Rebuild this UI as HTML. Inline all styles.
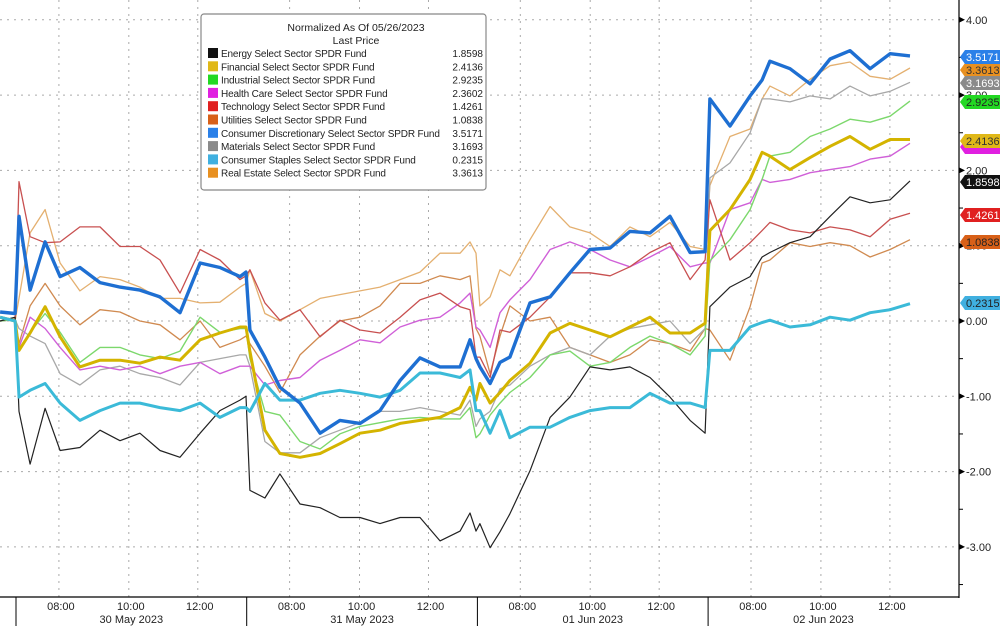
<!DOCTYPE html>
<html><head><meta charset="utf-8"><style>
html,body{margin:0;padding:0;background:#fff}
svg{display:block;font-family:"Liberation Sans",sans-serif}
</style></head><body>
<svg id="chart" width="1000" height="626" viewBox="0 0 1000 626" xmlns="http://www.w3.org/2000/svg">
<rect x="0" y="0" width="1000" height="626" fill="#fff"/>
<g id="grid"></g>
<g id="series"></g>
<g id="axes"></g>
<g id="tags"></g>
<g id="legend"></g>
</svg>
<script>
const times=[-0.069,-0.004,0.013,0.061,0.126,0.191,0.277,0.364,0.451,0.537,0.624,0.711,0.798,0.884,0.971,0.997,
1.014,1.079,1.144,1.231,1.318,1.404,1.491,1.578,1.665,1.751,1.838,1.925,1.968,1.994,
2.011,2.055,2.098,2.141,2.228,2.315,2.401,2.488,2.575,2.661,2.748,2.835,2.922,2.987,
3.008,3.095,3.182,3.234,3.268,3.355,3.442,3.529,3.615,3.702,3.789,3.875];
const names=["Energy Select Sector SPDR Fund","Financial Select Sector SPDR Fund","Industrial Select Sector SPDR Fund","Health Care Select Sector SPDR Fund","Technology Select Sector SPDR Fund","Utilities Select Sector SPDR Fund","Consumer Discretionary Select Sector SPDR Fund","Materials Select Sector SPDR Fund","Consumer Staples Select Sector SPDR Fund","Real Estate Select Sector SPDR Fund"];
const lastValues=["1.8598","2.4136","2.9235","2.3602","1.4261","1.0838","3.5171","3.1693","0.2315","3.3613"];
const energy=[0,0.05,-1.2,-1.9,-1.16,-1.72,-1.68,-1.45,-1.59,-1.49,-1.72,-1.81,-1.49,-1.19,-1.05,-1.0,
-2.25,-2.35,-2.03,-2.43,-2.48,-2.61,-2.61,-2.69,-2.61,-2.61,-2.92,-2.79,-2.55,-2.79,
-2.69,-3.01,-2.8,-2.56,-1.99,-1.28,-1.01,-0.61,-0.65,-0.61,-0.75,-1.01,-1.32,-1.49,
0.19,0.45,0.59,0.85,0.91,1.04,1.12,1.39,1.65,1.57,1.61,1.86];
const financial=[0.05,0,-0.39,-0.16,0.19,-0.21,-0.61,-0.52,-0.52,-0.56,-0.48,-0.52,-0.25,-0.16,-0.08,-0.08,
-0.4,-1.45,-1.76,-1.81,-1.76,-1.63,-1.49,-1.45,-1.36,-1.32,-1.28,-1.15,-0.88,-1.05,
-0.83,-1.09,-0.95,-0.79,-0.56,-0.16,-0.03,-0.12,-0.21,-0.08,0.05,-0.16,-0.16,-0.03,
1.2,1.48,1.88,2.24,2.19,2.01,2.17,2.32,2.45,2.28,2.41,2.41];
const industrial=[0,0.02,-0.4,-0.15,0.1,-0.15,-0.55,-0.35,-0.35,-0.45,-0.5,-0.4,0.05,-0.15,-0.1,-0.1,
-0.5,-1.2,-1.25,-1.6,-1.7,-1.5,-1.4,-1.35,-1.3,-1.28,-1.3,-1.3,-1.15,-1.55,
-1.5,-1.25,-1.09,-0.95,-0.75,-0.45,-0.4,-0.6,-0.55,-0.35,-0.2,-0.3,-0.45,-0.2,
0.8,1.08,1.48,1.88,2.19,2.24,2.45,2.55,2.68,2.64,2.72,2.92];
const health=[0,0.02,-0.35,0.05,-0.1,-0.35,-0.65,-0.6,-0.65,-0.6,-0.7,-0.6,-0.55,-0.7,-0.6,-0.6,
-0.6,-0.85,-0.79,-0.75,-0.52,-0.39,-0.25,-0.29,-0.08,0.01,0.05,0.24,0.37,-0.08,
-0.12,-0.35,0.11,0.28,0.55,0.95,1.05,0.95,0.81,0.72,0.85,0.99,0.72,0.77,
0.77,1.48,1.57,1.88,1.84,1.88,1.97,2.01,2.05,2.15,2.19,2.36];
const technology=[0,0.02,1.85,1.12,1.04,1.05,1.25,1.25,0.99,0.99,0.81,0.37,0.95,0.81,0.55,0.6,
0.68,0.24,0.01,0.15,-0.21,0.01,-0.12,-0.16,0.05,0.28,0.37,0.19,0.15,-0.48,
-0.48,-0.75,-0.12,-0.15,0.05,0.32,0.64,0.64,0.6,0.72,0.91,1.04,0.55,0.81,
1.61,0.81,1.04,1.2,1.31,1.21,1.17,1.25,1.21,1.12,1.35,1.43];
const utilities=[0,0.03,-0.3,0.2,0.5,0.2,-0.05,0.15,0.12,0,-0.05,-0.25,0,-0.35,-0.25,-0.2,
-0.3,-0.6,-0.95,-0.45,-0.2,0,0.05,0.2,0.5,0.5,0.6,0.55,0.6,-0.1,
-0.2,-0.7,-0.2,0.2,0,0.05,-0.35,-0.45,-0.55,-0.45,-0.25,-0.3,-0.4,-0.1,
-0.12,-0.52,0.19,0.77,0.81,1.04,0.99,1.04,1.0,0.85,0.95,1.08];
const discretionary=[0.12,0.1,1.39,0.41,1.05,0.59,0.71,0.51,0.45,0.41,0.32,0.11,0.77,0.71,0.59,0.65,
-0.12,-0.48,-0.88,-1.09,-1.49,-1.32,-1.36,-1.19,-0.79,-0.49,-0.61,-0.61,-0.25,-0.5,
-0.61,-0.83,-0.55,-0.48,0.24,0.32,0.64,0.95,0.97,1.19,1.17,1.39,0.91,0.92,
2.95,2.59,2.99,3.2,3.45,3.35,3.15,3.48,3.59,3.35,3.55,3.52];
const materials=[0,0.02,-0.1,-0.2,-0.3,-0.7,-0.85,-0.65,-0.6,-0.7,-0.75,-0.85,-0.55,-0.5,-0.45,-0.45,
-0.6,-1.6,-1.75,-1.75,-1.55,-1.45,-1.35,-1.2,-1.2,-1.15,-1.2,-1.25,-1.05,-1.4,
-1.3,-1.2,-0.9,-0.85,-0.6,-0.45,-0.35,-0.45,-0.2,-0.1,-0.05,0,-0.3,-0.1,
1.9,2.1,2.5,2.95,2.95,2.91,2.99,2.95,3.12,2.99,3.05,3.17];
const staples=[0.05,0,-1.01,-0.92,-0.83,-1.09,-1.32,-1.19,-1.09,-1.09,-1.15,-1.19,-1.09,-1.28,-1.15,-1.15,
-1.2,-0.83,-1.05,-1.05,-0.96,-0.92,-0.96,-1.01,-0.92,-0.69,-0.69,-0.75,-0.65,-1.19,
-1.19,-1.49,-1.19,-1.55,-1.41,-1.41,-1.28,-1.19,-1.15,-1.15,-0.96,-1.09,-1.09,-1.15,
-0.39,-0.39,-0.08,-0.02,0.01,-0.08,-0.05,0.05,0.01,0.11,0.15,0.23];
const realEstate=[0.05,0,0.3,1.17,1.48,0.77,0.4,0.59,0.55,0.45,0.3,0.3,0.24,0.25,0.45,0.5,
0.68,0.1,0,0.15,0.3,0.35,0.4,0.45,0.55,0.65,0.9,0.9,1.05,0.9,
0.2,0.32,0.68,0.6,1.08,1.52,1.25,1.17,0.99,1.25,1.12,1.31,0.99,0.95,
1.8,2.45,2.55,2.95,3.12,2.99,3.21,3.39,3.44,3.25,3.21,3.36];
const yTicks=[4,3,2,1,0,-1,-2,-3];
const yTickLabels=["4.00","3.00","2.00","1.00","0.00","-1.00","-2.00","-3.00"];
const hourTicks=[0.186,0.489,0.788];
const hourLabels=["08:00","10:00","12:00"];
const dayLabels=["30 May 2023","31 May 2023","01 Jun 2023","02 Jun 2023"];

const NS="http://www.w3.org/2000/svg";
function xs(t){return 16+t*230.7;}
function ys(v){return 321-v*75.3;}
function mk(tag,attrs,parent){const e=document.createElementNS(NS,tag);for(const k in attrs)e.setAttribute(k,attrs[k]);parent.appendChild(e);return e;}
const grid=document.getElementById('grid'),axes=document.getElementById('axes'),sg=document.getElementById('series'),tags=document.getElementById('tags'),lg=document.getElementById('legend');

yTicks.forEach((v,i)=>{
  const l=mk('line',{x1:0,x2:959,y1:ys(v),y2:ys(v),stroke:'#aaa','stroke-width':1,'stroke-dasharray':'2,5'},grid);
  
  
  const tk=mk('path',{d:`M959 ${ys(v)-3}L965 ${ys(v)}L959 ${ys(v)+3}Z`,fill:'#000'},axes);
  
  
  const t=mk('text',{x:966,y:ys(v)+4,'font-size':11,fill:'#222'},axes);
  t.textContent=yTickLabels[i];
  
  
});
[-3.5,-2.5,-1.5,-0.5,0.5,1.5,2.5,3.5].forEach(v=>{
  const m=mk('line',{x1:959,x2:963,y1:ys(v),y2:ys(v),stroke:'#000'},axes);
  
  
});
for(let d=0;d<4;d++){
  hourTicks.forEach((h,i)=>{
    const x=xs(d+h);
    const l=mk('line',{x1:x,x2:x,y1:0,y2:597,stroke:'#aaa','stroke-width':1,'stroke-dasharray':'2,5'},grid);
    
    
    const t=mk('text',{x:x+2,y:610,'font-size':11,fill:'#222','text-anchor':'middle'},axes);
    t.textContent=hourLabels[i];
    
    
  });
  const dl=mk('text',{x:xs(d+0.5),y:623,'font-size':11,fill:'#222','text-anchor':'middle'},axes);
  dl.textContent=dayLabels[d];
  
  
  const sep=mk('line',{x1:xs(d),x2:xs(d),y1:597,y2:626,stroke:'#000','stroke-width':1},axes);
  
  
}
const ax1=mk('line',{x1:959,x2:959,y1:0,y2:598,stroke:'#000','stroke-width':1.2},axes);


const ax2=mk('line',{x1:0,x2:959,y1:597,y2:597,stroke:'#000','stroke-width':1.2},axes);



const lineColors=['#222','#d4b400','#7cd86c','#d060d8','#c85050','#d08a50','#1e6fd2','#a8a8a8','#3bbad8','#e4b070'];
const widths=[1.2,3,1.4,1.4,1.3,1.3,3.4,1.3,3,1.3];
const data=[energy,financial,industrial,health,technology,utilities,discretionary,materials,staples,realEstate];
const keys=['energy','financial','industrial','health-care','technology','utilities','consumer-discretionary','materials','consumer-staples','real-estate'];
const order=[9,5,7,3,4,2,0,1,8,6];
order.forEach(i=>{
  const pts=times.map((t,j)=>xs(t).toFixed(1)+','+ys(data[i][j]).toFixed(1)).join(' ');
  const p=mk('polyline',{points:pts,fill:'none',stroke:lineColors[i],'stroke-width':widths[i],'stroke-linejoin':'round'},sg);
  
  
});

const tagColors=['#111','#e0b818','#22d822','#e020e0','#e02020','#d86018','#2a80e8','#8a8a8a','#40b0e0','#e89020'];
const tagText=['#fff','#333','#222','#fff','#fff','#222','#fff','#fff','#222','#333'];
const tagOrder=[9,7,2,3,1,0,4,5,8,6];
const tagY={6:57,9:70,7:83,2:102,1:141,3:147,0:182,4:215,5:242,8:303};
tagOrder.forEach(i=>{
  const y=tagY[i];
  const g=mk('g',{},tags);
  
  
  mk('path',{d:`M960 ${y}L965 ${y-7}L1000 ${y-7}L1000 ${y+7}L965 ${y+7}Z`,fill:tagColors[i]},g);
  if(i!==3){const t=mk('text',{x:966,y:y+4,'font-size':11,fill:tagText[i]},g);t.textContent=lastValues[i];}
});

const lb=mk('rect',{x:201,y:14,width:285,height:176,rx:3,fill:'#fff',stroke:'#888','stroke-width':1.2},lg);


const t1=mk('text',{x:356,y:31,'font-size':10.5,'text-anchor':'middle',fill:'#222'},lg);t1.textContent='Normalized As Of 05/26/2023';


const t2=mk('text',{x:356,y:44,'font-size':10.5,'text-anchor':'middle',fill:'#222'},lg);t2.textContent='Last Price';


names.forEach((n,i)=>{
  const y=57+i*13.3;
  const g=mk('g',{},lg);
  
  
  mk('rect',{x:208,y:y-9,width:10,height:10,fill:tagColors[i]},g);
  const a=mk('text',{x:221,y:y,'font-size':10,fill:'#222','letter-spacing':'-0.15'},g);a.textContent=n;
  const b=mk('text',{x:483,y:y,'font-size':10,fill:'#222','text-anchor':'end'},g);b.textContent=lastValues[i];
});
</script>
</body></html>
